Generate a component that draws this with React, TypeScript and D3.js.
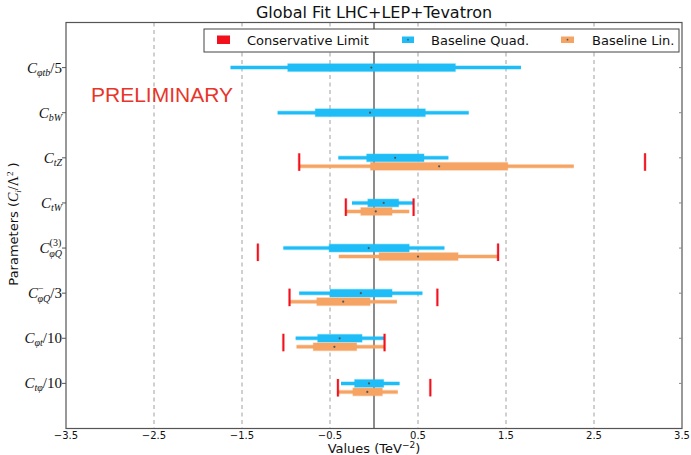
import React from "react";
import * as d3 from "d3";

// ---- data ----
const params = ["Cφtb/5", "CbW", "CtZ", "CtW", "CφQ(3)", "CφQ-/3", "Cφt/10", "Ctφ/10"];
const quadCenter = [-0.03, -0.045, 0.24, 0.11, -0.06, -0.15, -0.39, -0.057];
const quad68Lo = [-0.98, -0.667, -0.083, -0.07, -0.51, -0.5, -0.64, -0.22];
const quad68Hi = [0.925, 0.583, 0.568, 0.28, 0.4, 0.205, -0.136, 0.11];
const quad95Lo = [-1.63, -1.095, -0.405, -0.25, -1.03, -0.85, -0.89, -0.375];
const quad95Hi = [1.67, 1.076, 0.845, 0.45, 0.8, 0.55, 0.125, 0.29];
const linCenter = [null, null, 0.74, 0.02, 0.5, -0.35, -0.45, -0.076];
const lin68Lo = [null, null, -0.04, -0.15, 0.057, -0.65, -0.69, -0.24];
const lin68Hi = [null, null, 1.52, 0.205, 0.955, -0.045, -0.197, 0.095];
const lin95Lo = [null, null, -0.85, -0.32, -0.4, -0.96, -0.88, -0.41];
const lin95Hi = [null, null, 2.27, 0.4, 1.41, 0.26, 0.12, 0.27];
const consLo = [null, null, -0.85, -0.32, -1.32, -0.96, -1.03, -0.41];
const consHi = [null, null, 3.08, 0.45, 1.41, 0.72, 0.12, 0.64];
const xTicks = [-3.5, -2.5, -1.5, -0.5, 0.5, 1.5, 2.5, 3.5];
const gridTicks = [-2.5, -1.5, -0.5, 0.5, 1.5, 2.5];

const BLUE = "#1ebdf8";
const ORANGE = "#f5a464";
const RED = "#f2101c";

const W = 691, H = 455;
const L = 66, R = 682, T = 22.5, B = 428.5;

const x = d3.scaleLinear().domain([-3.5, 3.5]).range([L, R]);
const y = d3.scaleLinear().domain([0, 9]).range([T, B]);

const SERIF = "'Liberation Serif', 'DejaVu Serif', serif";
const SANS = "'DejaVu Sans', sans-serif";

function TickLabel({ i, yy }: { i: number; yy: number }) {
  const fs = 15, ss = 10;
  const common = { x: 62, y: yy + 5, textAnchor: "end" as const, fontFamily: SERIF, fontSize: fs, fill: "#111" };
  const C = <tspan fontStyle="italic">C</tspan>;
  switch (i) {
    case 0:
      return <text {...common}>{C}<tspan fontStyle="italic" fontSize={ss} dy={3}>φtb</tspan><tspan dy={-3}>/5</tspan></text>;
    case 1:
      return <text {...common}>{C}<tspan fontStyle="italic" fontSize={ss} dy={3}>bW</tspan></text>;
    case 2:
      return <text {...common}>{C}<tspan fontStyle="italic" fontSize={ss} dy={3}>tZ</tspan></text>;
    case 3:
      return <text {...common}>{C}<tspan fontStyle="italic" fontSize={ss} dy={3}>tW</tspan></text>;
    case 4:
      return <text {...common}>{C}<tspan fontSize={ss} dy={-7}>(3)</tspan><tspan fontStyle="italic" fontSize={ss} dx={-12} dy={11}>φQ</tspan></text>;
    case 5:
      return <text {...common}>{C}<tspan fontSize={ss} dy={-6}>−</tspan><tspan fontStyle="italic" fontSize={ss} dx={-6} dy={10}>φQ</tspan><tspan dy={-4}>/3</tspan></text>;
    case 6:
      return <text {...common}>{C}<tspan fontStyle="italic" fontSize={ss} dy={3}>φt</tspan><tspan dy={-3}>/10</tspan></text>;
    default:
      return <text {...common}>{C}<tspan fontStyle="italic" fontSize={ss} dy={3}>tφ</tspan><tspan dy={-3}>/10</tspan></text>;
  }
}

function Band({ cy, lo95, hi95, lo68, hi68, c, color }: any) {
  return (
    <g>
      <line x1={x(lo95)} x2={x(hi95)} y1={cy} y2={cy} stroke={color} strokeOpacity={0.35} strokeWidth={4.5} />
      <line x1={x(lo95)} x2={x(hi95)} y1={cy} y2={cy} stroke={color} strokeWidth={3} />
      <rect x={x(lo68) - 0.5} y={cy - 4.5} width={x(hi68) - x(lo68) + 1} height={9} fill={color} fillOpacity={0.35} />
      <rect x={x(lo68)} y={cy - 3.8} width={x(hi68) - x(lo68)} height={7.6} fill={color} />
      <circle cx={x(c)} cy={cy} r={1.1} fill="#555" />
    </g>
  );
}

export default function App() {
  return (
    <svg width={W} height={H} style={{ position: "absolute", left: 0, top: 0, background: "#fff" }}>
      <rect x={0} y={0} width={W} height={H} fill="#fff" />
      {/* title */}
      <text x={(L + R) / 2} y={18} textAnchor="middle" fontFamily={SANS} fontSize={16} fill="#111">Global Fit LHC+LEP+Tevatron</text>

      {/* grid */}
      {gridTicks.map((t) => (
        <line key={t} x1={x(t)} x2={x(t)} y1={T} y2={B} stroke="#a0a0a0" strokeWidth={1} strokeDasharray="4,3.5" />
      ))}
      <line x1={x(0)} x2={x(0)} y1={T} y2={B} stroke="#666" strokeWidth={1.5} />

      {/* preliminary */}
      <text x={91} y={102} fontFamily="'Liberation Sans', Arial, sans-serif" fontSize={21} fill="#e8352a">PRELIMINARY</text>

      {/* data */}
      {params.map((p, i) => {
        const cy = y(i + 1);
        return (
          <g key={p}>
            <Band cy={cy} lo95={quad95Lo[i]} hi95={quad95Hi[i]} lo68={quad68Lo[i]} hi68={quad68Hi[i]} c={quadCenter[i]} color={BLUE} />
            {linCenter[i] !== null && (
              <Band cy={cy + 8.5} lo95={lin95Lo[i]} hi95={lin95Hi[i]} lo68={lin68Lo[i]} hi68={lin68Hi[i]} c={linCenter[i]} color={ORANGE} />
            )}
            {consLo[i] !== null && (
              <g>
                {[consLo[i] as number, consHi[i] as number].map((v, k) => (
                  <g key={k}>
                    <line x1={x(v)} x2={x(v)} y1={cy - 4.5} y2={cy + 13} stroke={RED} strokeOpacity={0.3} strokeWidth={3} />
                    <line x1={x(v)} x2={x(v)} y1={cy - 4.5} y2={cy + 13} stroke={RED} strokeWidth={1.8} />
                  </g>
                ))}
              </g>
            )}
          </g>
        );
      })}

      {/* legend */}
      <rect x={204} y={29} width={475} height={23} fill="#fff" stroke="#444" strokeWidth={1} />
      <rect x={217} y={35.5} width={13} height={8.5} fill={RED} />
      <text x={247} y={45} fontFamily={SANS} fontSize={13} fill="#111">Conservative Limit</text>
      <rect x={402} y={36.5} width={12} height={6.5} fill={BLUE} />
      <circle cx={408} cy={39.7} r={0.9} fill="#555" />
      <text x={431} y={45} fontFamily={SANS} fontSize={13} fill="#111">Baseline Quad.</text>
      <rect x={561} y={36.5} width={13} height={6.5} fill={ORANGE} />
      <circle cx={567.5} cy={39.7} r={0.9} fill="#555" />
      <text x={592} y={45} fontFamily={SANS} fontSize={13} fill="#111">Baseline Lin.</text>

      {/* frame */}
      <rect x={L} y={T} width={R - L} height={B - T} fill="none" stroke="#555" strokeWidth={1.2} />

      {/* y ticks */}
      {params.map((p, i) => (
        <g key={"t" + p}>
          <line x1={L - 4} x2={L} y1={y(i + 1)} y2={y(i + 1)} stroke="#555" />
          <line x1={R - 3} x2={R} y1={y(i + 1)} y2={y(i + 1)} stroke="#888" />
          <TickLabel i={i} yy={y(i + 1)} />
        </g>
      ))}

      {/* x ticks */}
      {xTicks.map((t) => (
        <text key={t} x={x(t)} y={439} textAnchor="middle" fontFamily={SANS} fontSize={10} fill="#111">
          {(t < 0 ? "−" : "") + Math.abs(t).toFixed(1)}
        </text>
      ))}

      {/* axis labels */}
      <text x={(L + R) / 2} y={453} textAnchor="middle" fontFamily={SANS} fontSize={13} fill="#111">
        Values (TeV<tspan fontSize={9} dy={-5}>−2</tspan><tspan dy={5}>)</tspan>
      </text>
      <text transform="translate(18,224) rotate(-90)" textAnchor="middle" fontFamily={SANS} fontSize={13} fill="#111">
        Parameters (<tspan fontFamily={SERIF} fontStyle="italic" fontSize={14}>C</tspan>
        <tspan fontFamily={SERIF} fontStyle="italic" fontSize={9} dy={3}>i</tspan>
        <tspan fontFamily={SERIF} fontSize={14} dy={-3}>/Λ</tspan>
        <tspan fontFamily={SERIF} fontSize={9} dy={-5}>2</tspan>
        <tspan dy={5}> )</tspan>
      </text>
    </svg>
  );
}
